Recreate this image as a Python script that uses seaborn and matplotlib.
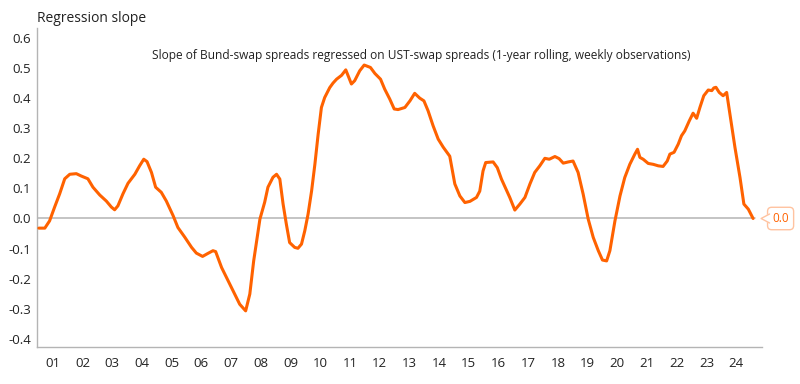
import pandas as pd
import matplotlib
matplotlib.use("Agg")
import matplotlib.pyplot as plt
from matplotlib.transforms import IdentityTransform
import seaborn as sns

# decimal year, regression slope
years = [2001.03, 2001.23, 2001.39, 2001.56, 2001.73, 2001.90, 2002.07, 2002.29, 2002.46, 2002.68,
         2002.85, 2003.08, 2003.30, 2003.47, 2003.58, 2003.69, 2003.86, 2004.03, 2004.26, 2004.42,
         2004.56, 2004.67, 2004.82, 2004.96, 2005.15, 2005.32, 2005.55, 2005.71, 2005.94, 2006.17,
         2006.33, 2006.54, 2006.72, 2006.89, 2006.98, 2007.18, 2007.40, 2007.62, 2007.79, 2007.99,
         2008.13, 2008.26, 2008.47, 2008.63, 2008.74, 2008.91, 2009.03, 2009.14, 2009.25, 2009.36,
         2009.47, 2009.64, 2009.75, 2009.87, 2009.98, 2010.09, 2010.21, 2010.32, 2010.43, 2010.54,
         2010.65, 2010.82, 2010.93, 2011.05, 2011.22, 2011.36, 2011.46, 2011.55, 2011.66, 2011.83,
         2011.98, 2012.19, 2012.34, 2012.53, 2012.67, 2012.84, 2012.99, 2013.12, 2013.35, 2013.52,
         2013.68, 2013.85, 2013.99, 2014.13, 2014.30, 2014.47, 2014.64, 2014.86, 2015.03, 2015.20,
         2015.37, 2015.54, 2015.76, 2015.87, 2015.98, 2016.07, 2016.32, 2016.46, 2016.60, 2016.75,
         2016.88, 2017.05, 2017.22, 2017.39, 2017.56, 2017.72, 2017.89, 2018.06, 2018.21, 2018.40,
         2018.54, 2018.68, 2018.85, 2019.01, 2019.18, 2019.35, 2019.52, 2019.69, 2019.86, 2020.00,
         2020.14, 2020.25, 2020.42, 2020.59, 2020.75, 2020.92, 2021.09, 2021.18, 2021.26, 2021.37,
         2021.54, 2021.71, 2021.88, 2022.04, 2022.18, 2022.27, 2022.41, 2022.55, 2022.66, 2022.77,
         2022.92, 2023.05, 2023.17, 2023.28, 2023.41, 2023.56, 2023.68, 2023.75, 2023.82, 2023.93,
         2024.06, 2024.18, 2024.29, 2024.46, 2024.63, 2024.76, 2024.91, 2025.07]
slope = [-0.032, -0.032, -0.008, 0.038, 0.082, 0.132, 0.147, 0.149, 0.141, 0.132,
         0.104, 0.078, 0.058, 0.038, 0.029, 0.042, 0.082, 0.117, 0.147, 0.175,
         0.197, 0.189, 0.153, 0.104, 0.087, 0.058, 0.009, -0.030, -0.062, -0.096,
         -0.115, -0.126, -0.116, -0.107, -0.110, -0.163, -0.207, -0.251, -0.285, -0.307,
         -0.251, -0.141, -0.002, 0.054, 0.104, 0.137, 0.147, 0.131, 0.048, -0.019,
         -0.080, -0.096, -0.099, -0.085, -0.041, 0.014, 0.092, 0.180, 0.280, 0.369,
         0.402, 0.435, 0.450, 0.463, 0.476, 0.494, 0.469, 0.447, 0.458, 0.491,
         0.510, 0.502, 0.482, 0.463, 0.430, 0.397, 0.364, 0.362, 0.369, 0.391,
         0.416, 0.400, 0.391, 0.358, 0.308, 0.264, 0.237, 0.207, 0.115, 0.075,
         0.053, 0.057, 0.070, 0.091, 0.158, 0.186, 0.188, 0.169, 0.131, 0.098,
         0.070, 0.028, 0.048, 0.070, 0.115, 0.153, 0.175, 0.200, 0.197, 0.206,
         0.199, 0.184, 0.188, 0.191, 0.153, 0.081, -0.002, -0.063, -0.107, -0.138,
         -0.141, -0.107, -0.008, 0.075, 0.136, 0.180, 0.214, 0.230, 0.203, 0.197,
         0.183, 0.180, 0.175, 0.173, 0.191, 0.214, 0.220, 0.247, 0.275, 0.291,
         0.324, 0.350, 0.333, 0.369, 0.408, 0.427, 0.425, 0.434, 0.436, 0.419,
         0.408, 0.419, 0.347, 0.236, 0.136, 0.048, 0.031, 0.0]

year_labels = ["%02d" % i for i in range(1, 25)]
y_ticks = [0.6, 0.5, 0.4, 0.3, 0.2, 0.1, 0.0, -0.1, -0.2, -0.3, -0.4]

df = pd.DataFrame({"year": years, "slope": slope})

sns.set_style("white")
plt.rcParams['font.family'] = ['Open Sans', 'DejaVu Sans']

orange = "#FF6200"
grey = "#b4b4b4"
pale = "#ffc3a0"

fig = plt.figure(figsize=(8, 3.84), dpi=100)
ax = fig.add_axes([0.046, 0.0964, 0.9065, 0.8306])

ax.axhline(0, xmax=0.99, color=grey, lw=1.1, zorder=1)
sns.lineplot(x="year", y="slope", data=df, color=orange, lw=2.2, ax=ax, zorder=3)

ax.set_xlim(2000.96, 2025.37)
ax.set_ylim(-0.427, 0.633)

# year labels in the middle of each year, small ticks at year boundaries
ax.set_xticks([2001.5 + i for i in range(len(year_labels))])
ax.set_xticklabels(year_labels)
ax.set_xticks([2002 + i for i in range(len(year_labels))], minor=True)
ax.tick_params(axis="x", which="major", length=0, pad=7, labelsize=9.5, labelcolor="#222222")
ax.tick_params(axis="x", which="minor", length=3, direction="out", color=grey, width=1)
ax.set_yticks(y_ticks)
ax.set_yticklabels(["%.1f" % v for v in y_ticks])
ax.tick_params(axis="y", length=0, pad=4, labelsize=9.5, labelcolor="#222222")

for s in ["top", "right"]:
    ax.spines[s].set_visible(False)
for s in ["left", "bottom"]:
    ax.spines[s].set_color(grey)
    ax.spines[s].set_linewidth(1)

ax.set_xlabel("")
ax.set_ylabel("")

fig.text(0.046, 0.953, "Regression slope", ha="left", va="center", fontsize=10, color="#222222")
ax.text(0.53, 0.915, "Slope of Bund-swap spreads regressed on UST-swap spreads (1-year rolling, weekly observations)",
        transform=ax.transAxes, ha="center", va="center", fontsize=8.6, color="#222222")

# last value callout
ax.annotate("%.1f" % slope[-1], xy=(years[-1], slope[-1]), xytext=(19.8, 0), textcoords="offset points",
            ha="center", va="center", fontsize=8.5, color=orange, annotation_clip=False, zorder=5,
            bbox=dict(boxstyle="round,pad=0.4,rounding_size=0.35", fc="white", ec=pale, lw=1))
# little pointer on the left of the callout box
px, py = ax.transData.transform((years[-1], slope[-1]))
ax.fill([px + 8, px + 17.5, px + 17.5], [py, py + 4.5, py - 4.5], color="white",
        transform=IdentityTransform(), clip_on=False, zorder=6)
ax.plot([px + 16.5, px + 8, px + 16.5], [py + 4.5, py, py - 4.5], color=pale, lw=1,
        transform=IdentityTransform(), clip_on=False, zorder=7)

fig.savefig("out.png", dpi=100)
